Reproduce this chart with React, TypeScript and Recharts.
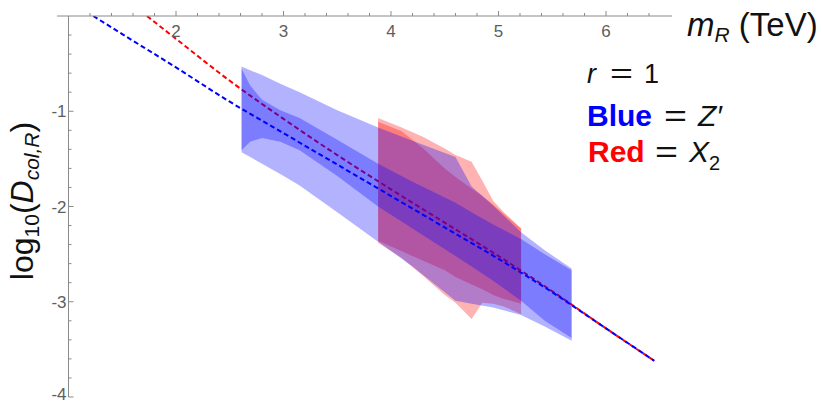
import { ComposedChart, Area, Line, XAxis, YAxis, ReferenceLine } from "recharts";

document.body.style.margin = "0";

const W = 822;
const H = 403;
const X_MIN = 0.893;
const X_MAX = 6.614;
const MARGIN = { top: 15, right: 150, bottom: 6, left: 56 };
const PLOT_LEFT = MARGIN.left + 1;
const PX_PER_X = (W - PLOT_LEFT - MARGIN.right) / (X_MAX - X_MIN);
const Y_AXIS_SHIFT = (1 - X_MIN) * PX_PER_X; // y axis crosses at m_R = 1
const AXIS = "#8a8a8a";
const LABEL = "#5e5e5e";
const FONT = "'Liberation Sans', Arial, sans-serif";

// dashed central curves
const blueLineX = [1.23, 1.5, 2, 2.5, 3, 3.5, 4, 4.5, 5, 5.5, 6, 6.45];
const blueLineY = [0, -0.19, -0.54, -0.9, -1.23, -1.56, -1.89, -2.22, -2.55, -2.9, -3.28, -3.62];
const redLineX = [1.73, 2, 2.5, 3, 3.5, 4, 4.5, 5, 5.5, 6, 6.45];
const redLineY = [0, -0.24, -0.68, -1.08, -1.46, -1.82, -2.17, -2.52, -2.89, -3.28, -3.62];

// Z' bands
const blueX = [2.61, 2.69, 2.8, 2.97, 3.15, 3.5, 3.88, 4.2, 4.6, 4.75, 4.95, 5.21, 5.43, 5.68];
const blueOuterHi = [-0.53, -0.57, -0.62, -0.71, -0.8, -0.99, -1.17, -1.31, -1.48, -1.79, -1.99, -2.27, -2.46, -2.65];
const blueOuterLo = [-1.43, -1.48, -1.55, -1.66, -1.78, -2.06, -2.37, -2.63, -2.99, -3.02, -3.06, -3.14, -3.26, -3.41];
const blueInnerHi = [-0.55, -0.73, -0.88, -0.99, -1.07, -1.3, -1.55, -1.74, -1.96, -2.06, -2.19, -2.34, -2.5, -2.67];
const blueInnerLo = [-1.41, -1.32, -1.28, -1.32, -1.41, -1.68, -2.0, -2.23, -2.52, -2.63, -2.78, -2.99, -3.2, -3.38];

// X2 bands
const redX = [3.88, 4.1, 4.3, 4.5, 4.6, 4.75, 4.85, 4.95, 5.05, 5.21];
const redOuterHi = [-1.07, -1.17, -1.27, -1.39, -1.46, -1.53, -1.73, -1.94, -2.06, -2.23];
const redOuterLo = [-2.38, -2.54, -2.73, -2.93, -3.01, -3.18, -3.01, -3.02, -3.05, -3.13];
const redInnerHi = [-1.11, -1.21, -1.39, -1.6, -1.69, -1.81, -1.89, -1.98, -2.08, -2.23];
const redInnerLo = [-2.36, -2.47, -2.57, -2.67, -2.74, -2.82, -2.87, -2.93, -2.97, -3.02];

const xTicks = [1.2, 1.4, 1.6, 1.8, 2, 2.2, 2.4, 2.6, 2.8, 3, 3.2, 3.4, 3.6, 3.8, 4, 4.2, 4.4, 4.6, 4.8, 5, 5.2, 5.4, 5.6, 5.8, 6, 6.2, 6.4];
const yTicks = [-0.2, -0.4, -0.6, -0.8, -1, -1.2, -1.4, -1.6, -1.8, -2, -2.2, -2.4, -2.6, -2.8, -3, -3.2, -3.4, -3.6, -3.8, -4];

type Row = { x: number; [k: string]: any };
const table = new Map<number, Row>();
function put(xs: number[], key: string, vals: any[]) {
  xs.forEach((x, i) => {
    const r = table.get(x) ?? { x };
    r[key] = vals[i];
    table.set(x, r);
  });
}
put(blueLineX, "blueLine", blueLineY);
put(redLineX, "redLine", redLineY);
put(blueX, "blueOuter", blueX.map((_, i) => [blueOuterLo[i], blueOuterHi[i]]));
put(blueX, "blueInner", blueX.map((_, i) => [blueInnerLo[i], blueInnerHi[i]]));
put(redX, "redOuter", redX.map((_, i) => [redOuterLo[i], redOuterHi[i]]));
put(redX, "redInner", redX.map((_, i) => [redInnerLo[i], redInnerHi[i]]));
const rows = [...table.values()].sort((a, b) => a.x - b.x);

const isMajor = (v: number) => Math.abs(v - Math.round(v)) < 1e-6;

function XTick(props: any) {
  const { x, y, payload } = props;
  const v = payload.value;
  const major = isMajor(v);
  return (
    <g>
      <line x1={x} x2={x} y1={y} y2={y - (major ? 5 : 3)} stroke={AXIS} />
      {major && (
        <text x={x} y={y + 21} textAnchor="middle" fontSize={17} fill={LABEL} fontFamily={FONT}>
          {v}
        </text>
      )}
    </g>
  );
}

function YTick(props: any) {
  const { y, payload } = props;
  const v = payload.value;
  const major = isMajor(v);
  const ax = PLOT_LEFT + Y_AXIS_SHIFT;
  return (
    <g>
      <line x1={ax} x2={ax + (major ? 5 : 3)} y1={y} y2={y} stroke={AXIS} />
      {major && (
        <text x={ax - 2} y={Math.min(y + 6, H - 3)} textAnchor="end" fontSize={17} fill={LABEL} fontFamily={FONT}>
          {String(Math.round(v))}
        </text>
      )}
    </g>
  );
}

export default function App() {
  return (
    <div style={{ position: "relative", width: W, height: H, background: "#fff" }}>
      <ComposedChart width={W} height={H} data={rows} margin={MARGIN}>
        <XAxis
          dataKey="x"
          type="number"
          orientation="top"
          domain={[X_MIN, X_MAX]}
          allowDataOverflow
          ticks={xTicks}
          interval={0}
          height={1}
          tickSize={0}
          tickMargin={0}
          tickLine={false}
          axisLine={{ stroke: AXIS }}
          tick={<XTick />}
        />
        <YAxis
          type="number"
          domain={[-4, 0]}
          allowDataOverflow
          ticks={yTicks}
          interval={0}
          width={1}
          tickSize={0}
          tickMargin={0}
          tickLine={false}
          axisLine={false}
          tick={<YTick />}
        />
        <ReferenceLine x={1} stroke={AXIS} />
        <Area type="linear" dataKey="redOuter" stroke="none" fill="#ff0000" fillOpacity={0.3} connectNulls dot={false} activeDot={false} isAnimationActive={false} zIndex={100} />
        <Area type="linear" dataKey="redInner" stroke="none" fill="#ff0000" fillOpacity={0.3} connectNulls dot={false} activeDot={false} isAnimationActive={false} zIndex={101} />
        <Line type="monotone" dataKey="redLine" stroke="#ff0000" strokeWidth={2} strokeDasharray="5 3" dot={false} activeDot={false} connectNulls isAnimationActive={false} zIndex={102} />
        <Area type="linear" dataKey="blueOuter" stroke="none" fill="#0000ff" fillOpacity={0.3} connectNulls dot={false} activeDot={false} isAnimationActive={false} zIndex={103} />
        <Area type="linear" dataKey="blueInner" stroke="none" fill="#0000ff" fillOpacity={0.3} connectNulls dot={false} activeDot={false} isAnimationActive={false} zIndex={104} />
        <Line type="monotone" dataKey="blueLine" stroke="#0000ff" strokeWidth={2} strokeDasharray="5 3" dot={false} activeDot={false} connectNulls isAnimationActive={false} zIndex={105} />
      </ComposedChart>

      <svg width={W} height={H} style={{ position: "absolute", left: 0, top: 0, pointerEvents: "none" }} fontFamily={FONT}>
        {/* x axis title */}
        <text x={687} y={36} fontSize={33} fill="#111">
          <tspan fontStyle="italic">m</tspan>
          <tspan fontStyle="italic" fontSize={21} dy={6}>R</tspan>
          <tspan dy={-6}> (TeV)</tspan>
        </text>
        {/* y axis title */}
        <text x={33} y={201} transform="rotate(-90 33 201)" textAnchor="middle" fontSize={32} fill="#111">
          log
          <tspan fontSize={21} dy={6}>10</tspan>
          <tspan dy={-6}>(</tspan>
          <tspan fontStyle="italic">D</tspan>
          <tspan fontStyle="italic" fontSize={21} dy={6}>col,R</tspan>
          <tspan dy={-6}>)</tspan>
        </text>
        {/* annotations */}
        <text y={83} fontSize={27} fill="#111">
          <tspan x={587} fontStyle="italic">r</tspan>
          <tspan x={610} textLength={23} lengthAdjust="spacingAndGlyphs">=</tspan>
          <tspan x={644}>1</tspan>
        </text>
        <text y={126} fontSize={30} fill="#111">
          <tspan x={587} fontWeight="bold" fill="#0000ff">Blue</tspan>
          <tspan x={664} textLength={23} lengthAdjust="spacingAndGlyphs">=</tspan>
          <tspan x={698} fontStyle="italic">Z′</tspan>
        </text>
        <text y={162} fontSize={30} fill="#111">
          <tspan x={588} fontWeight="bold" fill="#ff0000">Red</tspan>
          <tspan x={655} textLength={23} lengthAdjust="spacingAndGlyphs">=</tspan>
          <tspan x={689} fontStyle="italic">X</tspan>
          <tspan fontSize={20} dy={8}>2</tspan>
        </text>
      </svg>
    </div>
  );
}
